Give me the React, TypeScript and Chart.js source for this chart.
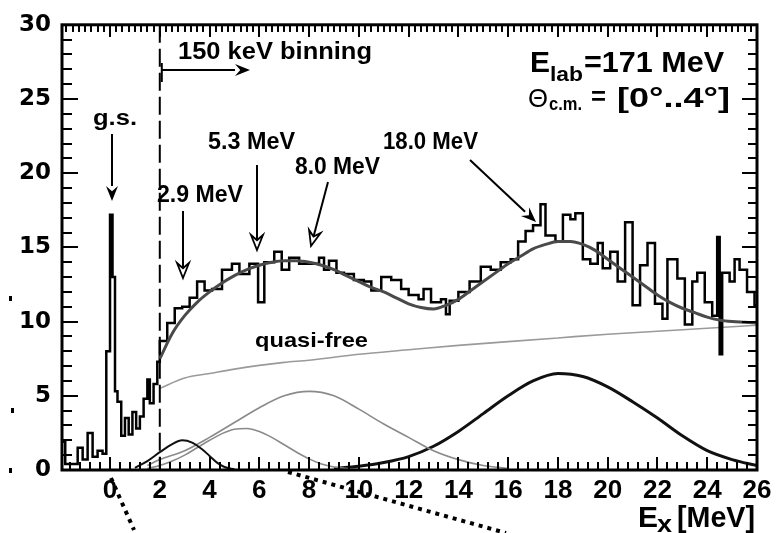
import React, { useEffect, useRef } from "react";
import { Chart, registerables } from "chart.js";

Chart.register(...registerables);

const X_MIN = -1.93;
const X_MAX = 26;
const Y_MIN = 0;
const Y_MAX = 30;
const xTickValues = [0, 2, 4, 6, 8, 10, 12, 14, 16, 18, 20, 22, 24, 26];
const yTickValues = [0, 5, 10, 15, 20, 25, 30];

// measured spectrum (left bin edges and counts)
const histE = [
  -1.93, -1.8, -1.3, -1.1, -0.9, -0.7, -0.5, -0.3, -0.15, 0.0,
  0.1, 0.2, 0.3, 0.45, 0.6, 0.75, 0.9, 1.05, 1.2, 1.35,
  1.5, 1.6, 1.75, 1.9, 2.0, 2.3, 2.6, 2.9, 3.2, 3.5,
  3.8, 4.1, 4.5, 4.9, 5.2, 5.6, 5.95, 6.2, 6.6, 6.9,
  7.2, 7.6, 8.0, 8.4, 8.6, 8.8, 9.1, 9.4, 9.8, 10.2,
  10.5, 10.9, 11.3, 11.7, 12.0, 12.4, 12.6, 12.9, 13.3, 13.5,
  13.65, 14.0, 14.45, 14.9, 15.3, 15.7, 16.1, 16.4, 16.7, 17.0,
  17.3, 17.5, 17.9, 18.2, 18.5, 18.7, 19.0, 19.3, 19.6, 19.8,
  20.1, 20.4, 20.7, 21.0, 21.3, 21.6, 21.9, 22.2, 22.4, 22.8,
  23.1, 23.4, 23.6, 23.9, 24.2, 24.4, 24.5, 24.6, 24.9, 25.1,
  25.3, 25.6, 25.9,
];
const histV = [
  1.9, 0.4, 1.5, 0.7, 2.5, 0.9, 1.3, 1.1, 8.0, 17.2,
  13.0, 5.3, 4.6, 2.3, 3.5, 2.4, 3.9, 2.8, 3.6, 4.8,
  6.1, 4.5, 5.8, 7.3, 8.7, 9.9, 10.9, 11.0, 11.6, 12.7,
  12.1, 12.2, 13.5, 13.9, 13.2, 13.9, 11.3, 14.0, 14.7, 13.5,
  14.3, 13.9, 13.9, 14.3, 13.5, 14.1, 13.3, 13.2, 12.8, 12.7,
  12.1, 13.0, 12.8, 12.2, 11.8, 11.5, 12.2, 11.3, 11.5, 10.5,
  11.4, 12.0, 12.7, 13.7, 13.5, 14.0, 14.2, 15.4, 16.1, 16.5,
  17.9, 15.8, 15.4, 17.2, 16.9, 17.3, 14.2, 13.9, 15.3, 13.6,
  14.7, 12.7, 16.7, 11.1, 13.8, 15.3, 11.2, 10.2, 14.2, 12.9,
  9.8, 12.7, 13.3, 11.3, 10.4, 15.7, 7.8, 13.3, 12.7, 14.2,
  13.5, 12.0, 11.1,
];

// total fit
const fitE = [2, 2.5, 3, 3.5, 4, 4.5, 5, 5.5, 6, 6.5, 7, 7.5, 8, 8.5, 9, 9.5, 10, 10.5, 11, 11.5, 12, 12.5, 13, 13.5, 14, 14.5, 15, 15.5, 16, 16.5, 17, 17.5, 18, 18.5, 19, 19.5, 20, 20.5, 21, 21.5, 22, 22.5, 23, 23.5, 24, 24.5, 25, 25.5, 26];
const fitV = [7.5, 9.2, 10.4, 11.3, 12.0, 12.6, 13.1, 13.5, 13.8, 14.0, 14.1, 14.1, 14.0, 13.8, 13.5, 13.1, 12.7, 12.3, 12.0, 11.6, 11.2, 10.95, 10.85, 11.1, 11.5, 12.1, 12.7, 13.3, 13.9, 14.4, 14.9, 15.2, 15.4, 15.4, 15.2, 14.8, 14.2, 13.6, 13.0, 12.4, 11.8, 11.3, 10.9, 10.6, 10.3, 10.1, 10.0, 9.95, 9.9];

// quasi-free background
const qfE = [2, 3, 4, 5, 6, 7, 8, 10, 12, 14, 16, 18, 20, 22, 24, 26];
const qfV = [5.5, 6.2, 6.5, 6.8, 7.05, 7.25, 7.4, 7.8, 8.1, 8.4, 8.65, 8.9, 9.15, 9.35, 9.55, 9.75];

// resonance components
const g29E = [1.0, 1.5, 2.0, 2.5, 2.9, 3.3, 3.7, 4.0, 4.3, 4.6, 5.0];
const g29V = [0.15, 0.6, 1.2, 1.75, 2.0, 1.85, 1.4, 0.95, 0.5, 0.2, 0.05];

const g53E = [1.5, 2, 2.5, 3, 3.5, 4, 4.5, 5, 5.5, 6, 6.5, 7, 7.5, 8, 8.5, 9, 9.5, 10];
const g53V = [0.1, 0.3, 0.6, 1.0, 1.5, 2.0, 2.45, 2.75, 2.8, 2.6, 2.2, 1.7, 1.2, 0.75, 0.4, 0.2, 0.1, 0.05];

const g80E = [1.5, 2, 3, 4, 5, 6, 7, 8, 9, 10, 11, 12, 13, 14, 15, 16];
const g80V = [0.3, 0.7, 1.3, 2.2, 3.2, 4.2, 5.0, 5.3, 5.0, 4.1, 3.1, 2.2, 1.3, 0.7, 0.3, 0.1];

const g18E = [9, 10, 11, 12, 13, 14, 15, 16, 17, 18, 19, 20, 21, 22, 23, 24, 25, 26];
const g18V = [0.1, 0.25, 0.5, 0.9, 1.6, 2.6, 3.8, 5.0, 6.0, 6.5, 6.3, 5.6, 4.6, 3.5, 2.3, 1.3, 0.7, 0.3];

const pts = (xs: number[], ys: number[]) => xs.map((x, i) => ({ x, y: ys[i] }));

const SANS = "'Liberation Sans', Arial, sans-serif";

function drawText(
  ctx: CanvasRenderingContext2D,
  s: string,
  x: number,
  y: number,
  size: number,
  w?: number,
  weight = "bold"
) {
  ctx.save();
  ctx.font = `${weight} ${size}px ${SANS}`;
  ctx.textBaseline = "alphabetic";
  ctx.textAlign = "left";
  ctx.fillStyle = "#000";
  const m = ctx.measureText(s).width;
  const sx = w ? w / m : 1;
  ctx.translate(x, y);
  ctx.scale(sx, 1);
  ctx.fillText(s, 0, 0);
  ctx.restore();
}

function arrow(
  ctx: CanvasRenderingContext2D,
  x1: number,
  y1: number,
  x2: number,
  y2: number,
  filled: boolean
) {
  const ang = Math.atan2(y2 - y1, x2 - x1);
  const hl = 15;
  const hw = 6;
  const bx = x2 - hl * Math.cos(ang);
  const by = y2 - hl * Math.sin(ang);
  ctx.save();
  ctx.strokeStyle = "#000";
  ctx.lineWidth = 2;
  ctx.beginPath();
  ctx.moveTo(x1, y1);
  ctx.lineTo(filled ? bx : x2 - 4 * Math.cos(ang), filled ? by : y2 - 4 * Math.sin(ang));
  ctx.stroke();
  ctx.beginPath();
  ctx.moveTo(x2, y2);
  ctx.lineTo(bx + hw * Math.sin(ang), by - hw * Math.cos(ang));
  ctx.lineTo(bx + 0.35 * hl * Math.cos(ang), by + 0.35 * hl * Math.sin(ang));
  ctx.lineTo(bx - hw * Math.sin(ang), by + hw * Math.cos(ang));
  ctx.closePath();
  if (filled) {
    ctx.fillStyle = "#000";
    ctx.fill();
  } else {
    ctx.fillStyle = "#fff";
    ctx.fill();
    ctx.lineWidth = 1.8;
    ctx.stroke();
  }
  ctx.restore();
}

// inner frame ticks, placed with the chart's own scales
function drawTicks(ctx: CanvasRenderingContext2D, chart: any) {
  const { left, right, top, bottom } = chart.chartArea;
  const xs = chart.scales.x;
  const ys = chart.scales.y;
  ctx.save();
  ctx.setTransform(1, 0, 0, 1, 0, 0);
  ctx.globalAlpha = 1;
  ctx.globalCompositeOperation = "source-over";
  ctx.fillStyle = "rgb(0,0,0)";
  for (let i = -4; i <= 65; i++) {
    const v = i * 0.4;
    if (v < X_MIN || v > X_MAX + 1e-6) continue;
    const px = xs.getPixelForValue(v);
    const L = i % 5 === 0 ? 13 : 8;
    ctx.fillRect(Math.round(px) - 1, bottom - L, 2, L);
  }
  for (let i = -7; i <= 104; i++) {
    const v = i * 0.25;
    if (v < X_MIN || v > X_MAX + 1e-6) continue;
    const px = xs.getPixelForValue(v);
    const L = i % 8 === 0 ? 12 : 7;
    ctx.fillRect(Math.round(px) - 1, top, 2, L);
  }
  for (let v = Y_MIN; v <= Y_MAX; v += 1) {
    const py = ys.getPixelForValue(v);
    const major = v % 5 === 0;
    ctx.fillRect(left, Math.round(py) - 1, major ? 16 : 10, 2);
    const Lr = major ? 15 : 9;
    ctx.fillRect(right - Lr, Math.round(py) - 1, Lr, 2);
  }
  ctx.restore();
}

const decorPlugin = {
  id: "decor",
  afterDraw(chart: any) {
    const ctx: CanvasRenderingContext2D = chart.ctx;
    const { left, right, top, bottom } = chart.chartArea;
    const xs = chart.scales.x;

    ctx.save();
    ctx.fillStyle = "#000";
    ctx.strokeStyle = "#000";

    // dashed line at 2 MeV
    ctx.lineWidth = 2;
    ctx.setLineDash([18, 6]);
    const x2 = xs.getPixelForValue(2);
    ctx.beginPath();
    ctx.moveTo(x2, top);
    ctx.lineTo(x2, bottom);
    ctx.stroke();
    ctx.setLineDash([]);

    // frame
    ctx.lineWidth = 3;
    ctx.strokeRect(left, top, right - left, bottom - top);

    // binning marker
    ctx.lineWidth = 2;
    ctx.beginPath();
    ctx.moveTo(x2 + 2, 63);
    ctx.lineTo(x2 + 2, 82);
    ctx.stroke();
    arrow(ctx, x2 + 2, 70, 250, 70, true);
    drawText(ctx, "150 keV binning", 178, 59, 23, 194);

    // peak markers
    drawText(ctx, "g.s.", 93, 125, 22, 44);
    arrow(ctx, 112, 134, 112, 201, true);
    drawText(ctx, "2.9 MeV", 157, 202, 23, 86);
    arrow(ctx, 183, 211, 183, 278, false);
    drawText(ctx, "5.3 MeV", 208, 149, 23, 87);
    arrow(ctx, 257, 165, 257, 250, false);
    drawText(ctx, "8.0 MeV", 295, 174, 23, 85);
    arrow(ctx, 328, 182, 311, 246, false);
    drawText(ctx, "18.0 MeV", 383, 149, 23, 95);
    arrow(ctx, 470, 160, 536, 222, true);
    drawText(ctx, "quasi-free", 255, 347, 21, 113);

    // kinematics
    drawText(ctx, "E", 530, 72, 30, 20);
    drawText(ctx, "lab", 550, 81, 21, 33);
    drawText(ctx, "=171 MeV", 584, 72, 30, 140);
    drawText(ctx, "\u0398", 528, 107, 26, 20, "normal");
    drawText(ctx, "c.m.", 549, 110, 19, 33);
    drawText(ctx, "=", 591, 105, 26, 15);
    drawText(ctx, "[0\u00b0..4\u00b0]", 617, 107, 27, 113);

    // axis title
    drawText(ctx, "E", 638, 527, 29, 20);
    drawText(ctx, "x", 657, 532, 24, 15);
    drawText(ctx, "[MeV]", 677, 527, 29, 78);

    // scan artefacts below the axis
    ctx.lineWidth = 4;
    ctx.setLineDash([4, 5]);
    ctx.beginPath();
    ctx.moveTo(111, 478);
    ctx.lineTo(134, 530);
    ctx.moveTo(288, 472);
    ctx.lineTo(506, 533);
    ctx.stroke();
    ctx.setLineDash([]);
    ctx.fillRect(9, 296, 3, 5);
    ctx.fillRect(11, 408, 3, 5);
    ctx.fillRect(9, 468, 3, 5);
    ctx.restore();

    drawTicks(ctx, chart);
  },
};

export default function App() {
  const ref = useRef<HTMLCanvasElement | null>(null);
  const overlayRef = useRef<HTMLCanvasElement | null>(null);

  useEffect(() => {
    if (!ref.current) return;
    const histData = pts(histE, histV).concat([{ x: X_MAX, y: histV[histV.length - 1] }]);
    const curve = (data: any, color: string, width: number) => ({
      data,
      borderColor: color,
      borderWidth: width,
      pointRadius: 0,
      fill: false,
      cubicInterpolationMode: "monotone" as const,
    });
    const chart = new Chart(ref.current, {
      type: "line",
      data: {
        datasets: [
          curve(pts(fitE, fitV), "#4a4a4a", 3),
          {
            data: histData,
            borderColor: "#000",
            borderWidth: 2.5,
            pointRadius: 0,
            fill: false,
            stepped: "before",
          } as any,
          curve(pts(qfE, qfV), "#9a9a9a", 1.6),
          curve(pts(g29E, g29V), "#111", 2),
          curve(pts(g53E, g53V), "#8a8a8a", 1.6),
          curve(pts(g80E, g80V), "#8a8a8a", 1.6),
          curve(pts(g18E, g18V), "#111", 3),
        ],
      },
      options: {
        responsive: false,
        animation: false,
        events: [],
        layout: { padding: { top: 20, right: 25, left: 0, bottom: 0 } },
        plugins: { legend: { display: false }, tooltip: { enabled: false }, title: { display: false } },
        scales: {
          x: {
            type: "linear",
            min: X_MIN,
            max: X_MAX,
            afterBuildTicks: (s: any) => {
              s.ticks = xTickValues.map((v) => ({ value: v }));
            },
            afterFit: (s: any) => {
              s.height = 63;
            },
            grid: { display: false, drawTicks: false },
            border: { display: false },
            ticks: {
              autoSkip: false,
              maxRotation: 0,
              padding: 5,
              color: "#000",
              font: { family: SANS, size: 26, weight: "bold" },
              callback: (v: any) => String(v),
            },
          },
          y: {
            type: "linear",
            min: Y_MIN,
            max: Y_MAX,
            afterBuildTicks: (s: any) => {
              s.ticks = yTickValues.map((v) => ({ value: v }));
            },
            afterFit: (s: any) => {
              s.width = 62;
            },
            grid: { display: false, drawTicks: false },
            border: { display: false },
            ticks: {
              padding: 11,
              color: "#000",
              font: { family: "'DejaVu Sans', sans-serif", size: 23, weight: "bold" },
              callback: (v: any) => String(v),
            },
          },
        },
      } as any,
      plugins: [decorPlugin],
    });

    // second pass of the frame ticks on a transparent overlay canvas
    const ov = overlayRef.current;
    if (ov) {
      const octx = ov.getContext("2d");
      if (octx) {
        octx.clearRect(0, 0, ov.width, ov.height);
        drawTicks(octx, chart);
      }
    }
    return () => chart.destroy();
  }, []);

  return (
    <div style={{ position: "absolute", left: 0, top: 0, width: 782, height: 533, background: "#fff" }}>
      <canvas ref={ref} width={782} height={533} style={{ display: "block", position: "absolute", left: 0, top: 0 }} />
      <canvas
        ref={overlayRef}
        width={782}
        height={533}
        style={{ display: "block", position: "absolute", left: 0, top: 0, pointerEvents: "none" }}
      />
    </div>
  );
}
